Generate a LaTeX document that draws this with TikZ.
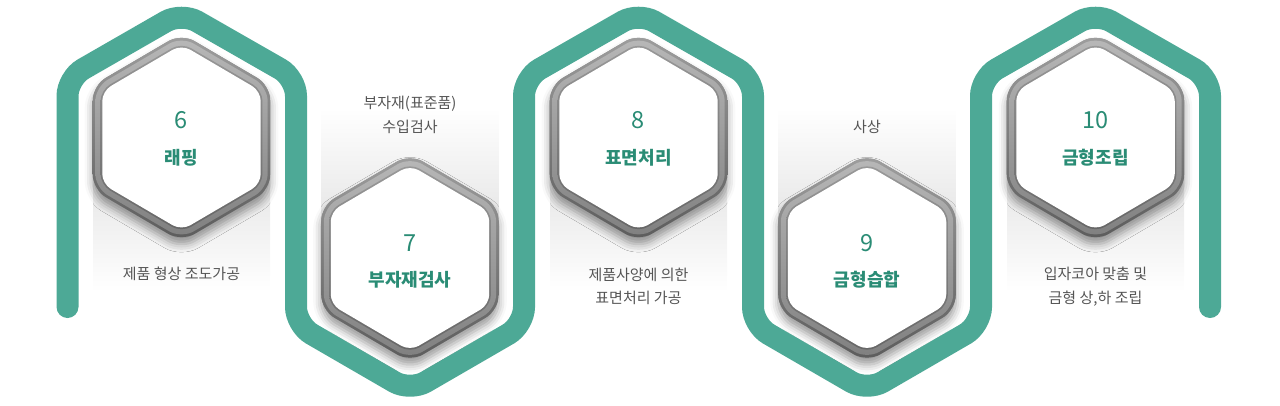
\documentclass[tikz,border=0pt]{standalone}
\usepackage{fontspec}
\setmainfont{Noto Sans CJK KR}
\usetikzlibrary{shadows.blur}
\definecolor{teal1}{HTML}{4DA996}
\definecolor{tealtxt}{HTML}{2A8C75}
\definecolor{desc}{HTML}{555555}
\newcommand\hexp[1]{(90:#1) -- (30:#1) -- (-30:#1) -- (-90:#1) -- (-150:#1) -- (150:#1) -- cycle}
\newcommand\dohex[2]{%
  \begin{scope}[shift={(#1,#2)}, yscale=1.015]
    \fill[rounded corners=15pt, black!45, blur shadow={shadow xshift=0pt,shadow yshift=-7pt,shadow blur radius=8pt,shadow opacity=40}] \hexp{102.5};
    \shade[rounded corners=15pt, top color=black!38, bottom color=black!64] \hexp{102.5};
    \shade[rounded corners=14pt, top color=black!28, bottom color=black!50] \hexp{99.5};
    \shade[rounded corners=11pt, top color=black!40, bottom color=black!60] \hexp{93.5};
    \fill[rounded corners=10pt, white] \hexp{91.5};
  \end{scope}}
\tikzset{
  numtxt/.style={text=tealtxt, font=\fontsize{23.5}{25}\selectfont, inner sep=0pt},
  titletxt/.style={text=tealtxt, font=\fontsize{18}{20}\selectfont\bfseries, inner sep=0pt},
  desctxt/.style={text=desc, font=\fontsize{15}{23.5}\selectfont, align=center, inner sep=0pt},
  tealpath/.style={draw=teal1, line width=22pt, line cap=round, rounded corners=18pt},
}
\begin{document}
\begin{tikzpicture}[x=1pt,y=-1pt]
\useasboundingbox (0,0) rectangle (1280,405);
% background gradient panels
\foreach \cx in {181.5,638.5,1095.5}{
  \shade[top color=black!13, bottom color=white] (\cx-88.5,140) rectangle (\cx+88.5,292);
}
\foreach \cx in {410,867}{
  \shade[top color=white, bottom color=black!13] (\cx-88.5,108) rectangle (\cx+88.5,258);
}
% teal path
\draw[tealpath] (67.5,307) -- (67.5,78) -- (181.5,12.5) -- (296,78) -- (296,325) -- (410,391)
  -- (524,325) -- (524,78) -- (638.5,12.5) -- (753,78) -- (753,325) -- (867,391)
  -- (981,325) -- (981,78) -- (1095.5,12.5) -- (1210,78) -- (1210,307);
% hexagons
\dohex{181.5}{137.5}
\dohex{410}{258}
\dohex{638.5}{137.5}
\dohex{867}{258}
\dohex{1095.5}{137.5}
% texts
\node[numtxt] (n6) at (181.5,120) {6};
\node[titletxt] (t6) at (181.5,158) {래핑};
\node[desctxt] (d6) at (181.5,274) {제품 형상 조도가공};
\node[numtxt] (n7) at (410,243) {7};
\node[titletxt] (t7) at (410,280) {부자재검사};
\node[desctxt] (d7) at (410,115) {부자재(표준품)\\수입검사};
\node[numtxt] (n8) at (638.5,120) {8};
\node[titletxt] (t8) at (638.5,158) {표면처리};
\node[desctxt] (d8) at (638.5,286.5) {제품사양에 의한\\표면처리 가공};
\node[numtxt] (n9) at (867,243) {9};
\node[titletxt] (t9) at (867,280) {금형습합};
\node[desctxt] (d9) at (867,127) {사상};
\node[numtxt] (n10) at (1095.5,120) {10};
\node[titletxt] (t10) at (1095.5,158) {금형조립};
\node[desctxt] (d10) at (1095.5,286.5) {입자코아 맞춤 및\\금형 상,하 조립};
\end{tikzpicture}
\end{document}
